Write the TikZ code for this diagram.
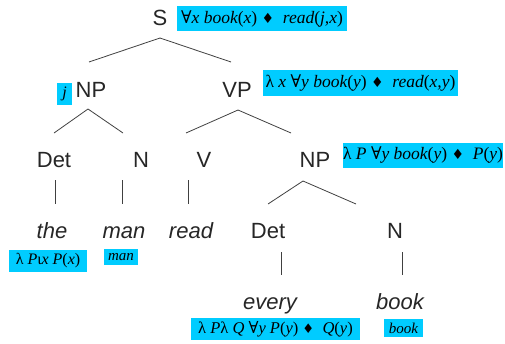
\documentclass[tikz,border=0pt]{standalone}
\usepackage{fontspec}
\usetikzlibrary{calc}
\setmainfont{Liberation Sans}
\newfontfamily\ser{Liberation Serif}
\newfontfamily\sym{DejaVu Serif}
\newfontfamily\dia{DejaVu Sans}
\definecolor{semblue}{RGB}{0,204,255}
\newcommand{\fa}{{\sym\upshape ∀}}
\newcommand{\dm}{{\dia\upshape\scalebox{0.8}{♦}}}
\newcommand{\lam}{{\upshape λ}}
\newcommand{\pa}[1]{{\upshape(}#1{\upshape)}}
\tikzset{
  cat/.style={anchor=base, inner sep=0pt, font=\fontsize{22}{26}\selectfont, text=black!85},
  word/.style={cat, font=\fontsize{22}{26}\selectfont\itshape},
  sem/.style={fill=semblue, inner sep=0pt, anchor=center, font=\ser\itshape\fontsize{#1}{#1}\selectfont},
  sem/.default=16,
  edge/.style={draw=black!75, line width=0.8pt}
}
\begin{document}
\begin{tikzpicture}[x=1pt,y=-1pt]
\useasboundingbox (0,0) rectangle (505,343);
% category nodes
\node[cat] (S) at (160,25) {S};
\node[cat] (NPa) at (91,97) {NP};
\node[cat] (VP) at (237,97) {VP};
\node[cat] (Deta) at (54,167) {Det};
\node[cat] (Na) at (141,167) {N};
\node[cat] (V) at (204,167) {V};
\node[cat] (NPb) at (315,167) {NP};
\node[word] (the) at (52,238) {the};
\node[word] (man) at (124,238) {man};
\node[word] (read) at (191,238) {read};
\node[cat] (Detb) at (268,238) {Det};
\node[cat] (Nb) at (395,238) {N};
\node[word] (every) at (270,309) {every};
\node[word] (book) at (400,309) {book};
% semantic boxes
\node[sem=17.5, minimum width=170pt, minimum height=25pt] (semS) at (262,18.5) {\fa x book\pa{x} \dm\ \ read\pa{j,x}};
\node[sem=16, minimum width=15pt, minimum height=22pt] (semNPa) at (64.5,94) {j};
\node[sem=17.5, minimum width=195pt, minimum height=26pt] (semVP) at (360.5,83) {\lam\ x \fa y book\pa{y} \dm\ \ read\pa{x,y}};
\node[sem=17.5, minimum width=160pt, minimum height=25pt] (semNPb) at (423,155.5) {\lam\ P \fa y book\pa{y} \dm\ \ P\pa{y}};
\node[sem=16, minimum width=78pt, minimum height=22pt] (semthe) at (48,261) {\lam\ P{\upshape ι}x P\pa{x}};
\node[sem=15, minimum width=34pt, minimum height=16pt] (semman) at (121,257) {man};
\node[sem=16.5, minimum width=169pt, minimum height=22pt] (semevery) at (275.5,329) {\lam\ P\lam\ Q \fa y P\pa{y} \dm\ \ Q\pa{y}};
\node[sem=15, minimum width=39pt, minimum height=18pt] (sembook) at (403.5,328) {book};
% connectors
\draw[edge] ($(S.base)+(0,13)$) -- ($(NPa.base)+(-2,-35)$);
\draw[edge] ($(S.base)+(0,13)$) -- ($(VP.base)+(-6,-35)$);
\draw[edge] ($(NPa.base)+(-3,12)$) -- ($(Deta.base)+(0,-34)$);
\draw[edge] ($(NPa.base)+(-3,12)$) -- ($(Na.base)+(-18,-34)$);
\draw[edge] ($(VP.base)+(1,13)$) -- ($(V.base)+(-18,-34)$);
\draw[edge] ($(VP.base)+(1,13)$) -- ($(NPb.base)+(-24,-34)$);
\draw[edge] ($(Deta.base)+(1,13)$) -- ($(the.base)+(3,-34)$);
\draw[edge] ($(Na.base)+(-19,13)$) -- ($(man.base)+(-2,-34)$);
\draw[edge] ($(V.base)+(-16,13)$) -- ($(read.base)+(-3,-34)$);
\draw[edge] ($(NPb.base)+(-12,14)$) -- ($(Detb.base)+(0,-34)$);
\draw[edge] ($(NPb.base)+(-12,14)$) -- ($(Nb.base)+(-39,-34)$);
\draw[edge] ($(Detb.base)+(13,14)$) -- ($(every.base)+(11,-34)$);
\draw[edge] ($(Nb.base)+(7,14)$) -- ($(book.base)+(2,-34)$);
\end{tikzpicture}
\end{document}
